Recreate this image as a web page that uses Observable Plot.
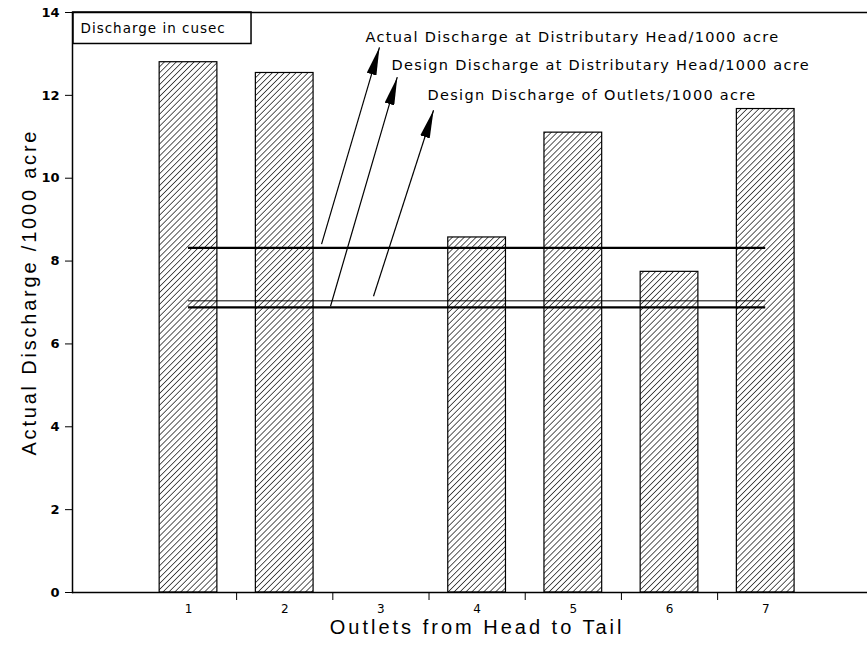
<!DOCTYPE html>
<html>
<head>
<meta charset="utf-8">
<script src="https://cdn.jsdelivr.net/npm/d3@7"></script>
<script src="https://cdn.jsdelivr.net/npm/@observablehq/plot@0.6"></script>
<style>
  html, body { margin: 0; padding: 0; background: #fff; }
  svg { display: block; }
</style>
</head>
<body>
<div id="chart"></div>
<script>
// Categories and values
const outlets = [1, 2, 3, 4, 5, 6, 7];
const actualDischarge = [12.8, 12.54, 0, 8.57, 11.1, 7.74, 11.67];
const boundaryTicks = [1.5, 2.5, 3.5, 4.5, 5.5, 6.5];
const yTicks = [0, 2, 4, 6, 8, 10, 12, 14];

// Reference lines (per 1000 acre)
const refNames = [
  "Actual Discharge at Distributary Head/1000 acre",
  "Design Discharge at Distributary Head/1000 acre",
  "Design Discharge of Outlets/1000 acre"
];
const refValues = [8.32, 6.88, 7.04];
const refStart = [1, 1, 1];
const refEnd = [7, 7, 7];

// Annotation label anchors (data units)
const labelX = [2.84, 3.11, 3.485];
const labelY = [13.41, 12.73, 12.0];
// Arrow tails (on lines) and tips (near labels), data units
const arrowX1 = [2.383, 2.476, 2.923];
const arrowY1 = [8.41, 6.91, 7.15];
const arrowX2 = [2.985, 3.17, 3.547];
const arrowY2 = [13.16, 12.44, 11.64];

const unitsNote = "Discharge in cusec";
const yLabel = "Actual Discharge /1000 acre";
const xLabel = "Outlets from Head to Tail";

const bars = outlets.map((o, i) => ({outlet: o, value: actualDischarge[i]}));
const refs = refNames.map((n, i) => ({name: n, value: refValues[i], x1: refStart[i], x2: refEnd[i], idx: i}));
const labels = refNames.map((n, i) => ({name: n, x: labelX[i], y: labelY[i]}));
const arrows = refNames.map((n, i) => ({x1: arrowX1[i], y1: arrowY1[i], x2: arrowX2[i], y2: arrowY2[i]}));

const font = "DejaVu Sans, sans-serif";

const chart = Plot.plot({
  width: 867,
  height: 651,
  marginLeft: 72,
  marginRight: 0,
  marginTop: 12,
  marginBottom: 59,
  style: {fontFamily: font, color: "#000", background: "#fff"},
  x: {type: "linear", domain: [-0.206, 8.058]},
  y: {domain: [0, 14]},
  marks: [
    Plot.rect(bars, {
      x1: d => d.outlet - 0.3, x2: d => d.outlet + 0.3,
      y1: 0, y2: "value",
      fill: "url(#hatch)", stroke: "#000", strokeWidth: 1.2
    }),
    Plot.ruleY(refs.filter(d => d.idx !== 2), {
      y: "value", x1: "x1", x2: "x2", stroke: "#000", strokeWidth: 2.2
    }),
    Plot.ruleY(refs.filter(d => d.idx === 2), {
      y: "value", x1: "x1", x2: "x2", stroke: "#000", strokeWidth: 1
    }),
    Plot.link(arrows, {
      x1: "x1", y1: "y1", x2: "x2", y2: "y2", stroke: "#000", strokeWidth: 1.2
    }),
    Plot.text(labels, {
      x: "x", y: "y", text: "name", textAnchor: "start",
      fontSize: 14.5, fill: "#000"
    }),
    // units note box
    Plot.rect([unitsNote], {
      x1: -0.196, x2: 1.655, y1: 13.24, y2: 14,
      fill: "#fff", stroke: "#000", strokeWidth: 1.5
    }),
    Plot.text([unitsNote], {
      x: -0.123, y: 13.62, text: d => d, textAnchor: "start",
      fontSize: 13.5, fill: "#000"
    }),
    Plot.frame({anchor: "left", strokeWidth: 1.5}),
    Plot.frame({anchor: "top", strokeWidth: 1.5}),
    Plot.ruleY([0], {strokeWidth: 1.5}),
    Plot.axisY({
      ticks: yTicks, tickSize: 7, tickPadding: 6,
      fontSize: 13, fontWeight: "bold", label: null
    }),
    Plot.axisX({
      ticks: boundaryTicks, tickSize: 8, tickFormat: () => "", label: null
    }),
    Plot.axisX({
      ticks: outlets, tickSize: 0, tickPadding: 12,
      fontSize: 12, label: null, tickFormat: d => String(d)
    }),
    Plot.text([xLabel], {
      x: 4.0, frameAnchor: "bottom", dy: 41, text: d => d, textAnchor: "middle",
      fontSize: 20, fontFamily: "Liberation Sans, Arial, sans-serif", fill: "#000"
    }),
    Plot.text([yLabel], {
      y: 7.25, frameAnchor: "left", dx: -43, rotate: -90, text: d => d,
      textAnchor: "middle",
      fontSize: 20, fontFamily: "Liberation Sans, Arial, sans-serif", fill: "#000"
    })
  ]
});

// Hatch pattern and filled arrowhead marker
const svg = d3.select(chart);
const defs = svg.insert("defs", ":first-child");
const pat = defs.append("pattern")
  .attr("id", "hatch")
  .attr("patternUnits", "userSpaceOnUse")
  .attr("width", 4.2).attr("height", 4.2)
  .attr("patternTransform", "rotate(45)");
pat.append("rect").attr("width", 4.2).attr("height", 4.2).attr("fill", "#fff");
pat.append("line").attr("x1", 0).attr("y1", 0).attr("x2", 0).attr("y2", 4.2)
  .attr("stroke", "#000").attr("stroke-width", 1.3);
defs.append("marker")
  .attr("id", "head")
  .attr("viewBox", "0 0 28 10")
  .attr("refX", 28).attr("refY", 5)
  .attr("markerWidth", 28).attr("markerHeight", 10)
  .attr("markerUnits", "userSpaceOnUse")
  .attr("orient", "auto")
  .append("path").attr("d", "M0,0L28,5L0,10Z").attr("fill", "#000");
svg.selectAll("g[aria-label='link'] path").attr("marker-end", "url(#head)");

// Letter spacing to match the stretched lettering of the original
const spacing = new Map([
  [refNames[0], "1.3px"], [refNames[1], "1.3px"], [refNames[2], "1.3px"],
  [unitsNote, "1px"], [xLabel, "3px"], [yLabel, "2.8px"]
]);
svg.selectAll("text").each(function () {
  const s = spacing.get(this.textContent);
  if (s) this.setAttribute("letter-spacing", s);
});

document.getElementById("chart").appendChild(chart);
</script>
</body>
</html>
